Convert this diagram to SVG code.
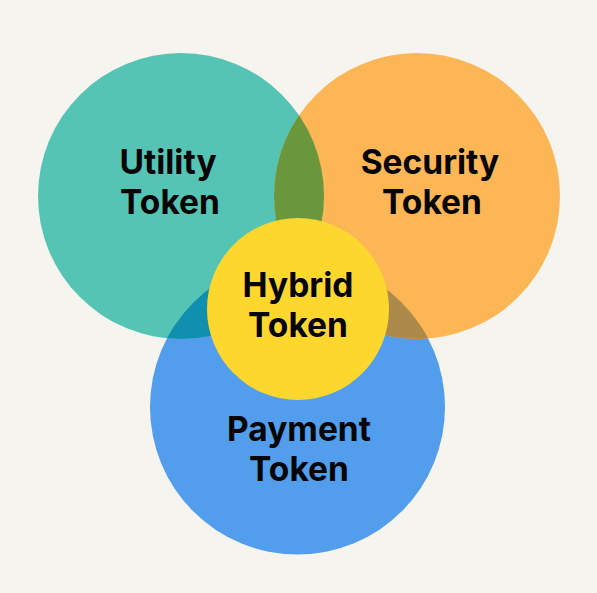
<svg xmlns="http://www.w3.org/2000/svg" width="597" height="593" viewBox="0 0 597 593">
<defs>
<style>
.lbl{font-family:Inter,"Liberation Sans",sans-serif;font-weight:700;font-size:33.5px;fill:#050505;text-anchor:middle}
</style>
<clipPath id="cT"><circle cx="181" cy="196" r="143"/></clipPath>
<clipPath id="cO"><circle cx="417" cy="196" r="143"/></clipPath>
</defs>
<rect width="597" height="593" fill="#f6f4ef"/>
<g id="payment">
<circle cx="297.5" cy="407" r="147.5" fill="#529eec"/>
</g>
<g id="utility">
<circle cx="181" cy="196" r="143" fill="#55c4b4"/>
</g>
<g id="security">
<circle cx="417" cy="196" r="143" fill="#fdb655"/>
</g>
<g id="overlaps">
<circle cx="417" cy="196" r="143" fill="#6a963c" clip-path="url(#cT)"/>
<circle cx="297.5" cy="407" r="147.5" fill="#1090ae" clip-path="url(#cT)"/>
<circle cx="297.5" cy="407" r="147.5" fill="#ac8a4a" clip-path="url(#cO)"/>
</g>
<g id="hybrid">
<circle cx="298" cy="309" r="91" fill="#fdd72e"/>
</g>
<g id="labels">
<text class="lbl" x="168" y="174">Utility</text>
<text class="lbl" x="170" y="214">Token</text>
<text class="lbl" x="430" y="174">Security</text>
<text class="lbl" x="432" y="214">Token</text>
<text class="lbl" x="298" y="297">Hybrid</text>
<text class="lbl" x="298" y="337">Token</text>
<text class="lbl" x="299" y="441">Payment</text>
<text class="lbl" x="299" y="481">Token</text>
</g>
<g id="connectors"/>
</svg>
